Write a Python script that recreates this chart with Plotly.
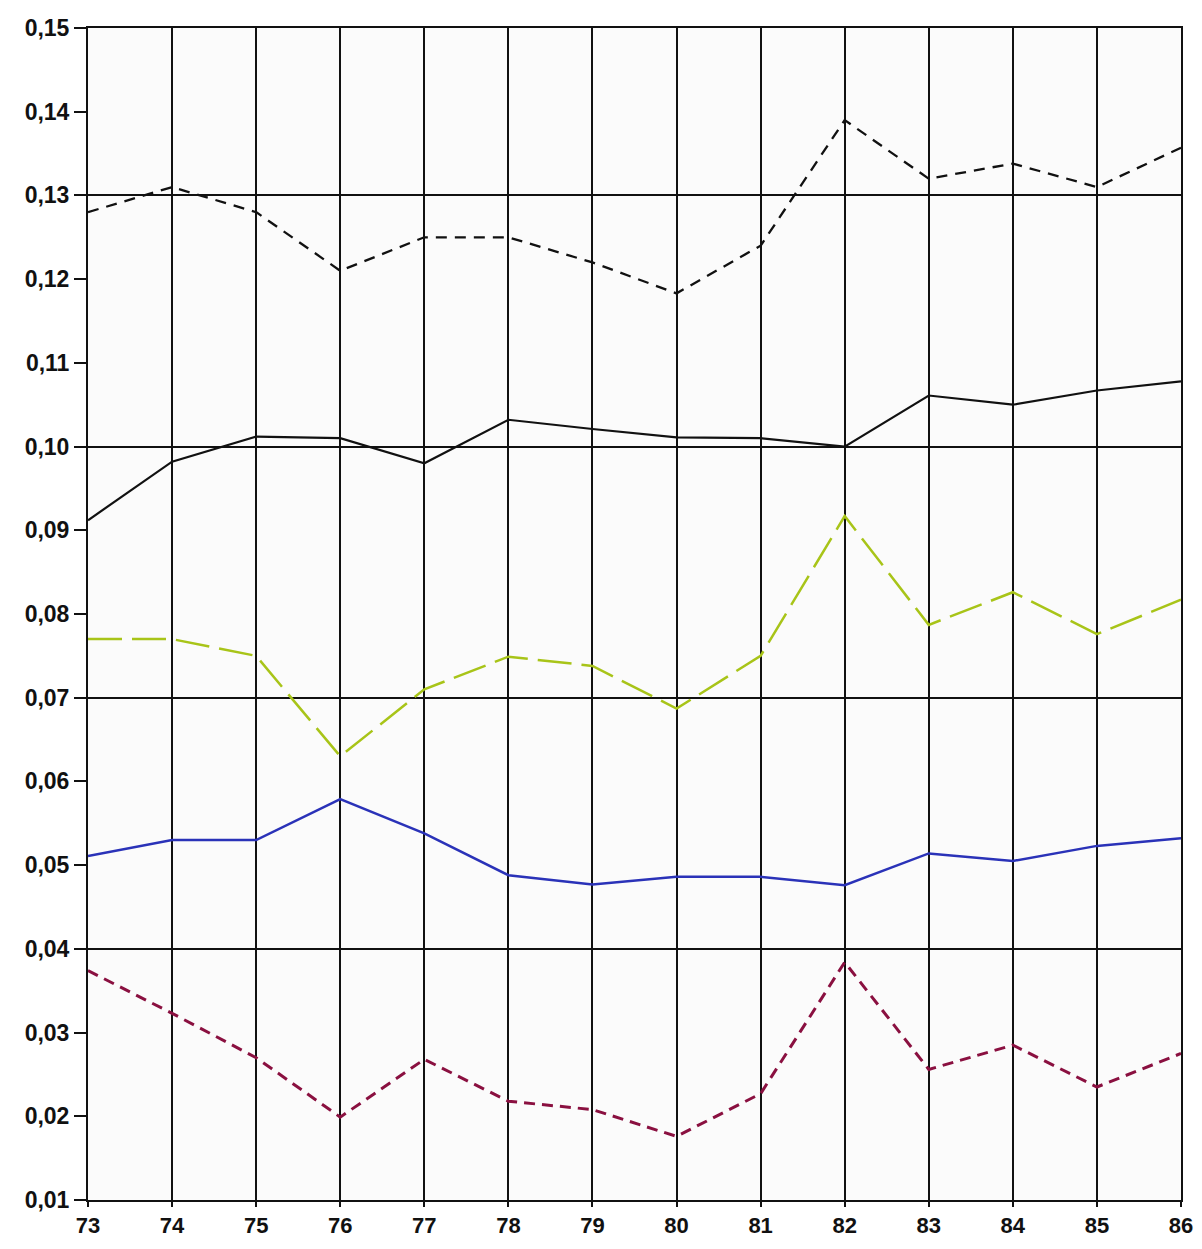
import plotly.graph_objects as go

years = [73, 74, 75, 76, 77, 78, 79, 80, 81, 82, 83, 84, 85, 86]

series_top_dashed = [0.128, 0.131, 0.128, 0.121, 0.125, 0.125, 0.122, 0.1183, 0.124, 0.139, 0.132, 0.1338, 0.131, 0.1357]
series_black_solid = [0.0912, 0.0982, 0.1012, 0.101, 0.098, 0.1032, 0.1021, 0.1011, 0.101, 0.1, 0.1061, 0.105, 0.1067, 0.1078]
series_green = [0.077, 0.077, 0.075, 0.063, 0.071, 0.0749, 0.0738, 0.0687, 0.075, 0.0917, 0.0787, 0.0826, 0.0776, 0.0817]
series_blue = [0.0511, 0.053, 0.053, 0.0579, 0.0538, 0.0488, 0.0477, 0.0486, 0.0486, 0.0476, 0.0514, 0.0505, 0.0523, 0.0532]
series_maroon = [0.0374, 0.0323, 0.027, 0.0199, 0.0268, 0.0218, 0.0208, 0.0176, 0.0227, 0.0384, 0.0256, 0.0285, 0.0235, 0.0275]

y_ticks = [0.01, 0.02, 0.03, 0.04, 0.05, 0.06, 0.07, 0.08, 0.09, 0.10, 0.11, 0.12, 0.13, 0.14, 0.15]
y_grid = [0.04, 0.07, 0.10, 0.13]

fig = go.Figure()

fig.add_trace(go.Scatter(x=years, y=series_top_dashed, mode="lines",
                         line=dict(color="#111111", width=2.3, dash="11px,8px")))
fig.add_trace(go.Scatter(x=years, y=series_black_solid, mode="lines",
                         line=dict(color="#111111", width=2.2)))
fig.add_trace(go.Scatter(x=years, y=series_green, mode="lines",
                         line=dict(color="#a8c418", width=2.5, dash="34px,10px")))
fig.add_trace(go.Scatter(x=years, y=series_blue, mode="lines",
                         line=dict(color="#2a32b8", width=2.5)))
fig.add_trace(go.Scatter(x=years, y=series_maroon, mode="lines",
                         line=dict(color="#8a1040", width=3, dash="11px,7px")))

# invisible trace on overlay axis for horizontal grid
fig.add_trace(go.Scatter(x=years[:1], y=[0.10], mode="markers", marker=dict(opacity=0),
                         yaxis="y2", hoverinfo="skip"))

fig.update_layout(
    width=1186, height=1233,
    margin=dict(l=80, r=13, t=20, b=41),
    paper_bgcolor="white", plot_bgcolor="#fbfbfb",
    showlegend=False,
    separators=", ",
    font=dict(family="Liberation Sans", color="#111111"),
    xaxis=dict(
        range=[73, 86], tickvals=years, ticktext=[str(y) for y in years],
        showgrid=True, gridcolor="#111111", gridwidth=2,
        showline=True, linecolor="#111111", linewidth=2, mirror=True,
        ticks="outside", ticklen=5, tickwidth=2, tickcolor="#111111",
        tickfont=dict(size=22, family="Liberation Sans", weight="bold"),
        zeroline=False, automargin=False, ticklabeloverflow="allow",
        ticklabelstandoff=0,
    ),
    yaxis=dict(
        range=[0.01, 0.15], tickvals=y_ticks, tickformat=".2f",
        showgrid=False,
        showline=True, linecolor="#111111", linewidth=2, mirror=True,
        ticks="outside", ticklen=12, tickwidth=2, tickcolor="#111111",
        tickfont=dict(size=23, family="Liberation Sans", weight="bold"),
        zeroline=False, automargin=False, ticklabeloverflow="allow",
    ),
    yaxis2=dict(
        range=[0.01, 0.15], overlaying="y", tickvals=y_grid,
        showgrid=True, gridcolor="#111111", gridwidth=2,
        showticklabels=False, ticks="", showline=False, zeroline=False,
    ),
)

fig.write_html("out.html")
